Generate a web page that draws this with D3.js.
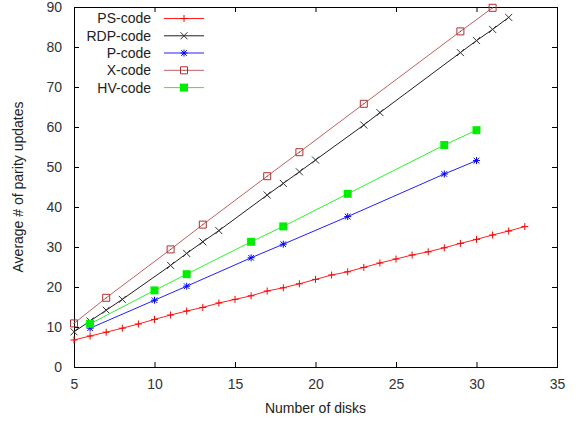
<!DOCTYPE html>
<html>
<head>
<meta charset="utf-8">
<script src="https://cdn.jsdelivr.net/npm/d3@7"></script>
<style>
  html, body { margin: 0; padding: 0; background: #fff; }
  svg { display: block; font-family: "Liberation Sans", Arial, sans-serif; }
</style>
</head>
<body>
<svg id="chart" width="580" height="422"></svg>
<script>
// ---- data ----
const psDisks  = [5,6,7,8,9,10,11,12,13,14,15,16,17,18,19,20,21,22,23,24,25,26,27,28,29,30,31,32,33];
const psValues = [6.75,7.75,8.7,9.7,10.75,11.9,13,14,14.9,16,16.9,17.8,19,19.8,20.8,21.9,23,23.8,24.9,26,27,28,28.8,29.8,30.9,31.9,33,34,35.1];

const rdpDisks  = [5,6,7,8,11,12,13,14,17,18,19,20,23,24,29,30,31,32];
const rdpValues = [8.8,11.5,14.2,16.9,25.4,28.4,31.3,34.1,43,45.9,48.8,51.75,60.5,63.6,78.6,81.6,84.4,87.4];

const pDisks  = [6,10,12,16,18,22,28,30];
const pValues = [9.7,16.7,20.2,27.3,30.7,37.6,48.25,51.6];

const xDisks  = [5,7,11,13,17,19,23,29,31];
const xValues = [10.9,17.3,29.4,35.6,47.7,53.7,65.8,83.9,89.8];

const hvDisks  = [6,10,12,16,18,22,28,30];
const hvValues = [10.8,19.15,23.2,31.3,35.15,43.3,55.5,59.2];

const seriesNames = ["PS-code","RDP-code","P-code","X-code","HV-code"];
const xTicks = [5,10,15,20,25,30,35];
const yTicks = [0,10,20,30,40,50,60,70,80,90];
const xTitle = "Number of disks";
const yTitle = "Average # of parity updates";

// ---- layout ----
const svg = d3.select("#chart");
const L = 74, R = 557, T = 7, B = 367;
const x = d3.scaleLinear().domain([5,35]).range([L,R]);
const y = d3.scaleLinear().domain([0,90]).range([B,T]);

const series = [
  {name: seriesNames[0], xs: psDisks,  ys: psValues,  line: "#ff2020", mark: "#ff0000", shape: "plus"},
  {name: seriesNames[1], xs: rdpDisks, ys: rdpValues, line: "#202020", mark: "#303030", shape: "cross"},
  {name: seriesNames[2], xs: pDisks,   ys: pValues,   line: "#2020ff", mark: "#0000ff", shape: "star"},
  {name: seriesNames[3], xs: xDisks,   ys: xValues,   line: "#c06060", mark: "#b03030", shape: "box"},
  {name: seriesNames[4], xs: hvDisks,  ys: hvValues,  line: "#30f030", mark: "#00ee00", shape: "fbox"}
];

function markerPath(shape) {
  const s = 3.5;
  switch (shape) {
    case "plus":  return `M${-s},0H${s}M0,${-s}V${s}`;
    case "cross": return `M${-s},${-s}L${s},${s}M${-s},${s}L${s},${-s}`;
    case "star":  return `M${-s},0H${s}M0,${-s}V${s}M${-s*0.8},${-s*0.8}L${s*0.8},${s*0.8}M${-s*0.8},${s*0.8}L${s*0.8},${-s*0.8}`;
    case "box":   return `M${-s},${-s}H${s}V${s}H${-s}Z`;
    case "fbox":  return `M${-s-0.5},${-s-0.5}H${s+0.5}V${s+0.5}H${-s-0.5}Z`;
  }
}
function drawMarker(g, shape, color, px, py) {
  const p = g.append("path").attr("d", markerPath(shape))
    .attr("transform", `translate(${px},${py})`);
  if (shape === "fbox") p.attr("fill", color).attr("stroke", "none");
  else p.attr("fill", "none").attr("stroke", color).attr("stroke-width", 1);
  if (shape === "box") {
    g.append("circle").attr("cx", px).attr("cy", py).attr("r", 0.6).attr("fill", color);
  }
}

// ---- axes (ticks inward, mirrored) ----
const tickLen = 5;
const axisG = svg.append("g");
axisG.append("g").attr("transform", `translate(0,${B})`)
  .call(d3.axisBottom(x).tickValues(xTicks).tickSize(-tickLen).tickPadding(12).tickFormat(d3.format("d")));
axisG.append("g").attr("transform", `translate(0,${T})`)
  .call(d3.axisTop(x).tickValues(xTicks).tickSize(-tickLen).tickFormat(""));
axisG.append("g").attr("transform", `translate(${L},0)`)
  .call(d3.axisLeft(y).tickValues(yTicks).tickSize(-tickLen).tickPadding(12).tickFormat(d3.format("d")));
axisG.append("g").attr("transform", `translate(${R},0)`)
  .call(d3.axisRight(y).tickValues(yTicks).tickSize(-tickLen).tickFormat(""));
axisG.selectAll(".domain").remove();
axisG.selectAll(".tick line").attr("stroke", "#000").attr("stroke-width", 1);
axisG.selectAll(".tick text").attr("fill", "#333").style("font-size", "14px")
  .style("font-family", "'Liberation Sans', Arial, sans-serif");

// border
svg.append("rect").attr("x", L + 0.5).attr("y", T + 0.5)
  .attr("width", R - L).attr("height", B - T)
  .attr("fill", "none").attr("stroke", "#000").attr("stroke-width", 1);

// ---- series ----
const plotG = svg.append("g");
const lineGen = d3.line().x(d => x(d[0])).y(d => y(d[1]));
series.forEach(s => {
  const pts = s.xs.map((v, i) => [v, s.ys[i]]);
  plotG.append("path").datum(pts).attr("d", lineGen)
    .attr("fill", "none").attr("stroke", s.line).attr("stroke-width", 1);
  const mg = plotG.append("g");
  pts.forEach(p => drawMarker(mg, s.shape, s.mark, x(p[0]), y(p[1])));
});

// ---- legend ----
const legG = svg.append("g");
const legY = [18.5, 35.8, 53, 70.3, 87.6];
series.forEach((s, i) => {
  legG.append("text").attr("x", 151).attr("y", legY[i]).attr("dy", "0.35em")
    .attr("text-anchor", "end").attr("fill", "#222").style("font-size", "14px").text(s.name);
  legG.append("line").attr("x1", 164).attr("x2", 204).attr("y1", legY[i]).attr("y2", legY[i])
    .attr("stroke", s.line).attr("stroke-width", 1);
  drawMarker(legG, s.shape, s.mark, 184, legY[i]);
});

// ---- titles ----
svg.append("text").attr("x", (L + R) / 2).attr("y", 413).attr("text-anchor", "middle")
  .attr("fill", "#222").style("font-size", "14px").text(xTitle);
svg.append("text").attr("transform", `translate(23,${(T + B) / 2}) rotate(-90)`)
  .attr("text-anchor", "middle").attr("fill", "#222").style("font-size", "14px").text(yTitle);
</script>
</body>
</html>
